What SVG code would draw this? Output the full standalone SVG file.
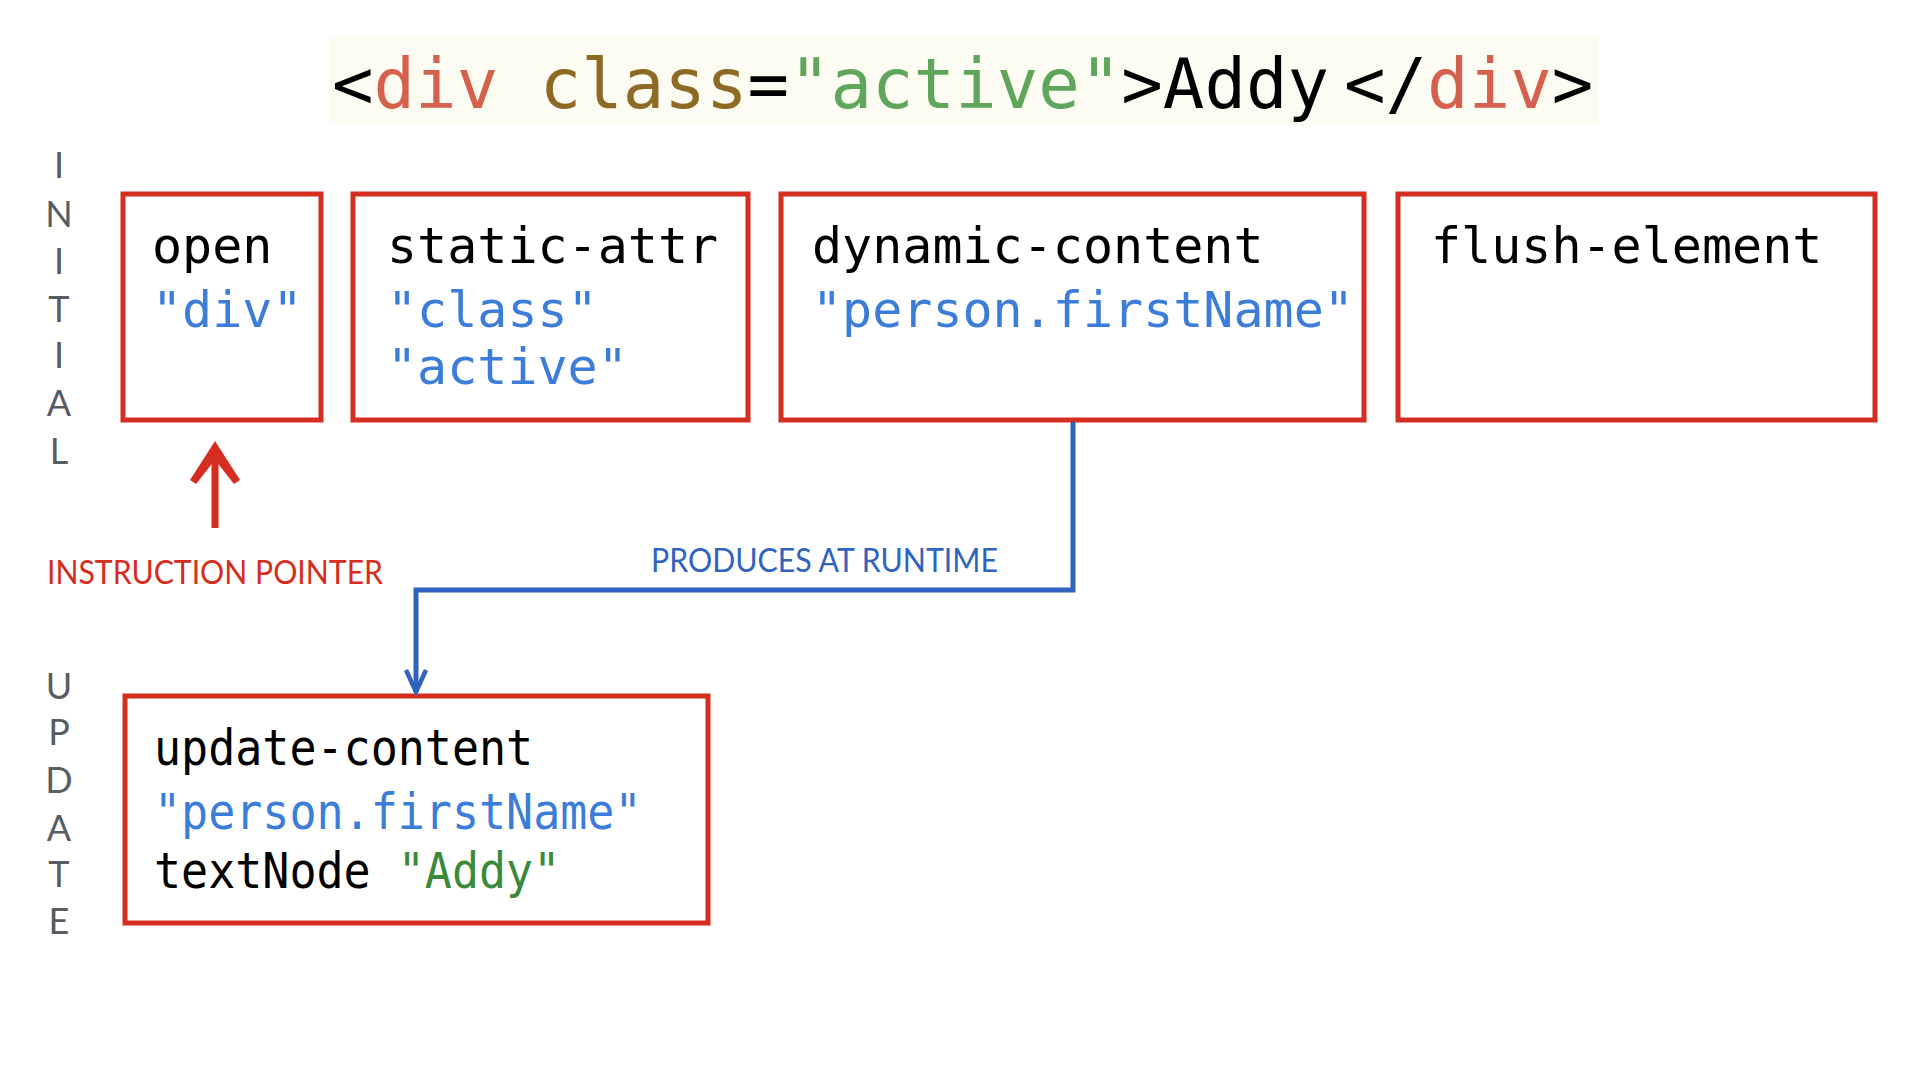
<svg xmlns="http://www.w3.org/2000/svg" width="1920" height="1080" viewBox="0 0 1920 1080">
<defs>
<style>
.box{fill:#fff;stroke:#d52d20;stroke-width:5}
.code{font-family:"DejaVu Sans Mono","Liberation Mono",monospace;font-size:50px;fill:#000}
.str{fill:#3b7dd8}
.side{font-family:Lato,"Liberation Sans",sans-serif;font-size:36px;fill:#575d63;text-anchor:middle}
.title{font-family:"DejaVu Sans Mono","Liberation Mono",monospace;font-size:69px;fill:#000}
</style>
<marker id="blueArrow" viewBox="0 0 28 24" refX="25" refY="12" markerWidth="28" markerHeight="24" markerUnits="userSpaceOnUse" orient="auto">
<polyline points="3,2 25,12 3,22" fill="none" stroke="#2f63bd" stroke-width="4.5"/>
</marker>
</defs>
<rect width="1920" height="1080" fill="#fff"/>
<rect x="330" y="37" width="1268" height="88" fill="#fcfcf3"/>
<text class="title" x="332" y="108">&lt;<tspan fill="#d6604d">div</tspan> <tspan fill="#8f6a24">class</tspan>=<tspan fill="#5fa55a">"active"</tspan>&gt;Addy</text>
<text class="title" x="1344" y="108">&lt;/<tspan fill="#d6604d">div</tspan>&gt;</text>

<g id="label-initial">
<text class="side" x="59" y="178">I</text>
<text class="side" x="59" y="227">N</text>
<text class="side" x="59" y="274">I</text>
<text class="side" x="59" y="322">T</text>
<text class="side" x="59" y="368">I</text>
<text class="side" x="59" y="416">A</text>
<text class="side" x="59" y="464">L</text>
</g>
<g id="label-update">
<text class="side" x="59" y="699">U</text>
<text class="side" x="59" y="745">P</text>
<text class="side" x="59" y="793">D</text>
<text class="side" x="59" y="841">A</text>
<text class="side" x="59" y="887">T</text>
<text class="side" x="59" y="934">E</text>
</g>

<g id="node-open">
<rect class="box" x="123" y="194" width="198" height="226"/>
<text class="code" x="152" y="263">open</text>
<text class="code str" x="152" y="327">"div"</text>
</g>
<g id="node-static-attr">
<rect class="box" x="353" y="194" width="395" height="226"/>
<text class="code" x="387" y="263">static-attr</text>
<text class="code str" x="387" y="327">"class"</text>
<text class="code str" x="387" y="384">"active"</text>
</g>
<g id="node-dynamic-content">
<rect class="box" x="781" y="194" width="583" height="226"/>
<text class="code" x="812" y="263">dynamic-content</text>
<text class="code str" x="812" y="327">"person.firstName"</text>
</g>
<g id="node-flush-element">
<rect class="box" x="1398" y="194" width="477" height="226"/>
<text class="code" x="1431" y="263">flush-element</text>
</g>
<g id="node-update-content">
<rect class="box" x="125" y="696" width="583" height="227"/>
<g transform="translate(154,0) scale(0.9,1) translate(-154,0)">
<text class="code" x="154" y="765">update-content</text>
<text class="code str" x="154" y="829">"person.firstName"</text>
<text class="code" x="154" y="888">textNode <tspan fill="#3a8a3a">"Addy"</tspan></text>
</g>
</g>

<g id="connectors">
<polyline points="1073,422 1073,590 416,590 416,692" fill="none" stroke="#2f63bd" stroke-width="5" marker-end="url(#blueArrow)"/>
<text x="651" y="572" font-family="Lato,'Liberation Sans',sans-serif" font-size="32" fill="#2f63bd" textLength="347" lengthAdjust="spacingAndGlyphs">PRODUCES AT RUNTIME</text>
<line x1="215" y1="528" x2="215" y2="452" stroke="#d52d20" stroke-width="7"/>
<path d="M215,441 L240,480 L234,484 L215,460 L196,484 L190,480 Z" fill="#d52d20"/>
<text x="47" y="584" font-family="Lato,'Liberation Sans',sans-serif" font-size="33" fill="#d52d20" textLength="336" lengthAdjust="spacingAndGlyphs">INSTRUCTION POINTER</text>
</g>
</svg>
